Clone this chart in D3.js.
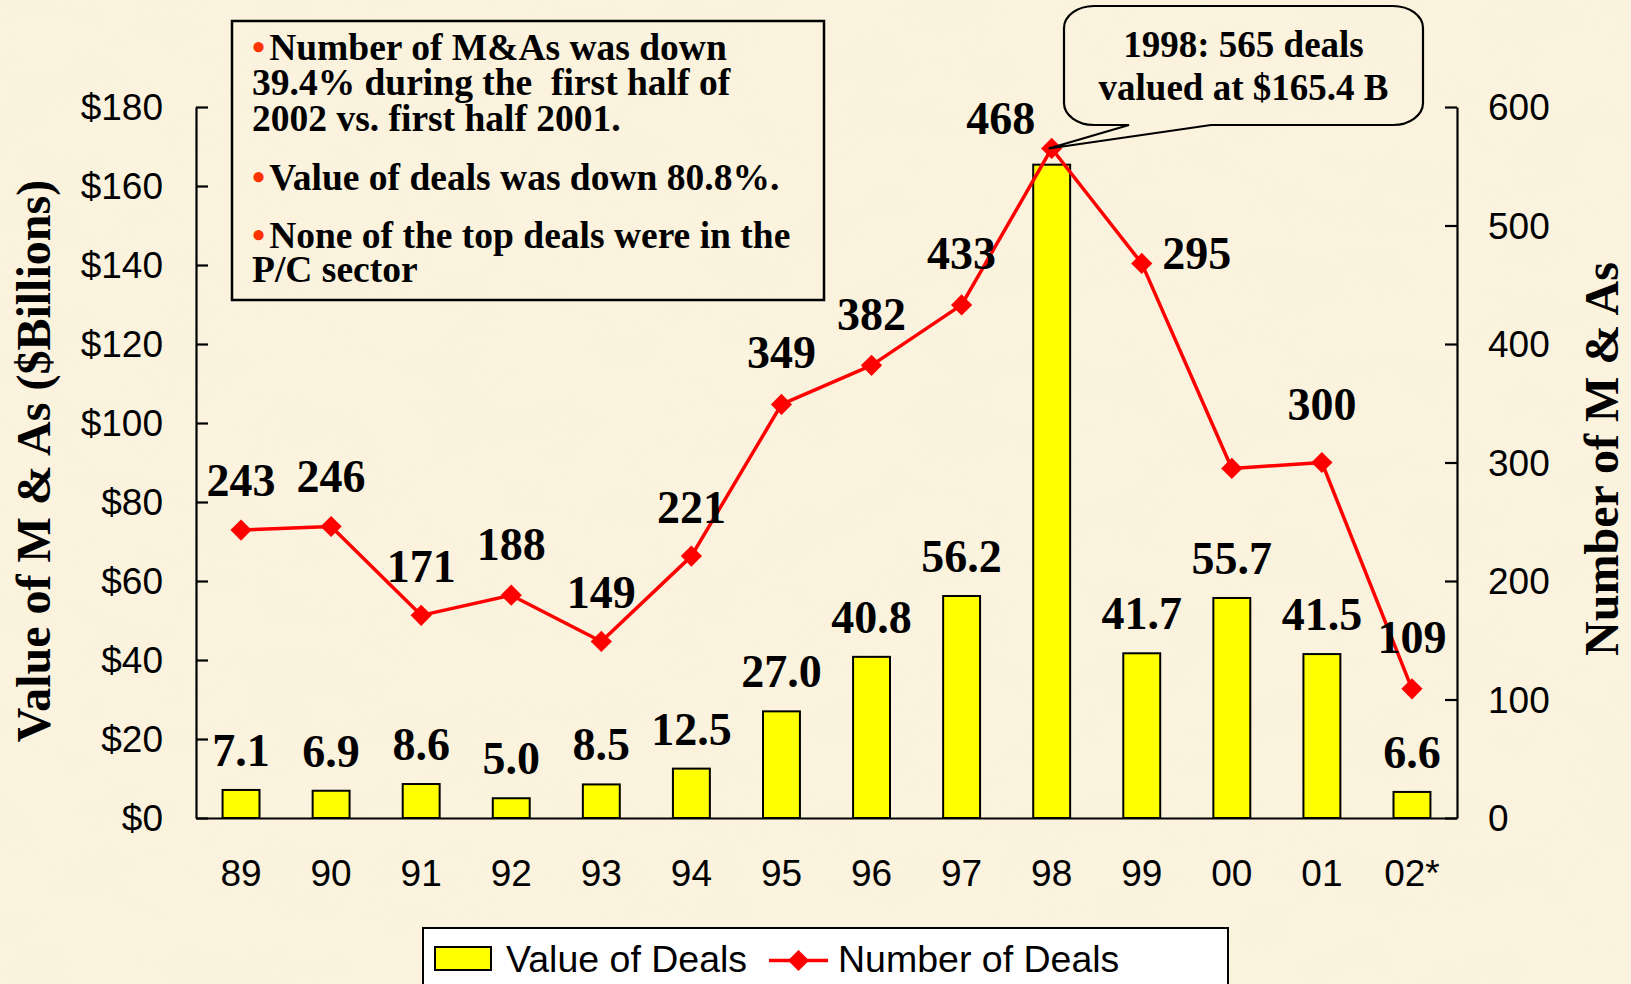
<!DOCTYPE html>
<html>
<head>
<meta charset="utf-8">
<script src="https://cdn.jsdelivr.net/npm/d3@7"></script>
<style>
  html, body { margin: 0; padding: 0; background: #faf0da; }
  svg { display: block; }
</style>
</head>
<body>
<svg id="chart" width="1631" height="984"></svg>
<script>
// ---- data ----
const years = ["89", "90", "91", "92", "93", "94", "95", "96", "97", "98", "99", "00", "01", "02*"];
const dealValues = [7.1, 6.9, 8.6, 5.0, 8.5, 12.5, 27.0, 40.8, 56.2, 165.4, 41.7, 55.7, 41.5, 6.6]; // $ billions
const dealCounts = [243, 246, 171, 188, 149, 221, 349, 382, 433, 565, 468, 295, 300, 109];
const valueTicks = [0, 20, 40, 60, 80, 100, 120, 140, 160, 180];
const countTicks = [0, 100, 200, 300, 400, 500, 600];

// the 1998 figures are carried by the callout rather than by data labels
const calloutYear = "98";
const calloutLines = ["1998: 565 deals", "valued at $165.4 B"];

const notes = [
  { bullet: true,  text: "Number of M&As was down" },
  { bullet: false, text: "39.4% during the  first half of" },
  { bullet: false, text: "2002 vs. first half 2001." },
  { bullet: true,  text: "Value of deals was down 80.8%." },
  { bullet: true,  text: "None of the top deals were in the" },
  { bullet: false, text: "P/C sector" }
];

// ---- placement of the hand-positioned count labels ----
// each label sits beside the marker of category `at`, shifted by dx/dy (baseline)
const countLabelPlacement = [
  { at: 0, dx: 0, dy: -34 }, { at: 1, dx: 0, dy: -34 }, { at: 2, dx: 0, dy: -33 },
  { at: 3, dx: 0, dy: -35 }, { at: 4, dx: 0, dy: -33 }, { at: 5, dx: 0, dy: -33 },
  { at: 6, dx: 0, dy: -36 }, { at: 7, dx: 0, dy: -35 }, { at: 8, dx: 0, dy: -36 },
  null,
  { at: 9, dx: -51, dy: -14 }, { at: 10, dx: 55, dy: 6 },
  { at: 12, dx: 0, dy: -43 }, { at: 13, dx: 0, dy: -36 }
];

// ---- styling ----
const SERIF = "'Liberation Serif', 'Times New Roman', serif";
const SANS = "'Liberation Sans', Arial, sans-serif";
const BAR_FILL = "#ffff00";
const LINE_RED = "#ff0000";
const BULLET_RED = "#ff3300";

const svg = d3.select("#chart");

// parchment background
const defs = svg.append("defs");
const paper = defs.append("filter").attr("id", "paper")
  .attr("x", 0).attr("y", 0).attr("width", "100%").attr("height", "100%");
paper.append("feTurbulence").attr("type", "fractalNoise")
  .attr("baseFrequency", "0.012 0.02").attr("numOctaves", 3).attr("seed", 7);
paper.append("feColorMatrix").attr("type", "matrix")
  .attr("values", "0 0 0 0 0.93  0 0 0 0 0.86  0 0 0 0 0.70  0.9 0 0 0 -0.32");

svg.append("rect").attr("width", 1631).attr("height", 984).attr("fill", "#fbf3de");
svg.append("rect").attr("width", 1631).attr("height", 984).attr("filter", "url(#paper)").attr("opacity", 0.55);

// ---- scales ----
const plot = { left: 196, right: 1457, top: 107, bottom: 818 };
const x = d3.scaleBand().domain(years).range([plot.left, plot.right])
  .paddingInner(0.59).paddingOuter(0.295);
const yVal = d3.scaleLinear().domain([0, 180]).range([plot.bottom, plot.top]);
const yCnt = d3.scaleLinear().domain([0, 600]).range([plot.bottom, plot.top]);
const cx = d => x(d) + x.bandwidth() / 2;

// ---- axes ----
const leftAxis = svg.append("g").attr("transform", `translate(${plot.left},0)`)
  .call(d3.axisLeft(yVal).tickValues(valueTicks).tickFormat(d => "$" + d)
    .tickSizeInner(-12).tickSizeOuter(0).tickPadding(33));
const rightAxis = svg.append("g").attr("transform", `translate(${plot.right},0)`)
  .call(d3.axisRight(yCnt).tickValues(countTicks).tickFormat(d3.format("d"))
    .tickSizeInner(-12).tickSizeOuter(0).tickPadding(31));
const bottomAxis = svg.append("g").attr("transform", `translate(0,${plot.bottom})`)
  .call(d3.axisBottom(x).tickSize(0).tickPadding(0));

[leftAxis, rightAxis, bottomAxis].forEach(g => {
  g.select(".domain").attr("stroke", "#000").attr("stroke-width", 2.2);
  g.selectAll(".tick line").attr("stroke", "#000").attr("stroke-width", 2.2);
  g.selectAll(".tick text").attr("fill", "#000")
    .style("font-family", SANS).style("font-size", "37px");
});
bottomAxis.selectAll(".tick text").attr("y", 68).attr("dy", null);
leftAxis.selectAll(".tick text").attr("dy", "0.35em");
rightAxis.selectAll(".tick text").attr("dy", "0.35em");

// ---- bars ----
svg.append("g").selectAll("rect").data(dealValues).join("rect")
  .attr("x", (d, i) => x(years[i]))
  .attr("width", x.bandwidth())
  .attr("y", d => yVal(d))
  .attr("height", d => plot.bottom - yVal(d))
  .attr("fill", BAR_FILL).attr("stroke", "#000").attr("stroke-width", 2);

// value labels above the bars
svg.append("g").selectAll("text")
  .data(dealValues.map((v, i) => ({ v, i })).filter(d => years[d.i] !== calloutYear))
  .join("text")
  .attr("x", d => cx(years[d.i]))
  .attr("y", d => yVal(d.v) - 24)
  .attr("text-anchor", "middle")
  .style("font-family", SERIF).style("font-weight", "bold").style("font-size", "46px")
  .text(d => d3.format(".1f")(d.v));

// ---- deal count line ----
const line = d3.line().x((d, i) => cx(years[i])).y(d => yCnt(d));
svg.append("path").datum(dealCounts)
  .attr("d", line).attr("fill", "none")
  .attr("stroke", LINE_RED).attr("stroke-width", 3.5).attr("stroke-linejoin", "round");

const diamond = d3.symbol(d3.symbolSquare, 225);
svg.append("g").selectAll("path").data(dealCounts).join("path")
  .attr("d", diamond)
  .attr("transform", (d, i) => `translate(${cx(years[i])},${yCnt(d)}) rotate(45)`)
  .attr("fill", LINE_RED);

// count labels
svg.append("g").selectAll("text")
  .data(dealCounts.map((v, i) => ({ v, p: countLabelPlacement[i] })).filter(d => d.p))
  .join("text")
  .attr("x", d => cx(years[d.p.at]) + d.p.dx)
  .attr("y", d => yCnt(dealCounts[d.p.at]) + d.p.dy)
  .attr("text-anchor", "middle")
  .style("font-family", SERIF).style("font-weight", "bold").style("font-size", "46px")
  .text(d => d.v);

// ---- 1998 callout ----
{
  const tipX = cx(calloutYear) - 3;
  const tipY = yCnt(dealCounts[years.indexOf(calloutYear)]);
  const x0 = 1064, x1 = 1423, y0 = 6, y1 = 125, rx = 30, ry = 22;
  const baseL = 1129, baseR = 1211;
  const p = d3.path();
  p.moveTo(x0 + rx, y0);
  p.lineTo(x1 - rx, y0);
  p.bezierCurveTo(x1 - rx * 0.45, y0, x1, y0 + ry * 0.45, x1, y0 + ry);
  p.lineTo(x1, y1 - ry);
  p.bezierCurveTo(x1, y1 - ry * 0.45, x1 - rx * 0.45, y1, x1 - rx, y1);
  p.lineTo(baseR, y1);
  p.lineTo(tipX, tipY);
  p.lineTo(baseL, y1);
  p.lineTo(x0 + rx, y1);
  p.bezierCurveTo(x0 + rx * 0.45, y1, x0, y1 - ry * 0.45, x0, y1 - ry);
  p.lineTo(x0, y0 + ry);
  p.bezierCurveTo(x0, y0 + ry * 0.45, x0 + rx * 0.45, y0, x0 + rx, y0);
  p.closePath();
  svg.append("path").attr("d", p.toString())
    .attr("fill", "none").attr("stroke", "#000").attr("stroke-width", 2.2)
    .attr("stroke-linejoin", "miter");
  svg.append("text")
    .attr("text-anchor", "middle")
    .style("font-family", SERIF).style("font-weight", "bold").style("font-size", "37px")
    .selectAll("tspan").data(calloutLines).join("tspan")
    .attr("x", 1243.5).attr("y", (d, i) => 56.7 + i * 43.3)
    .text(d => d);
}

// ---- notes box (one multi-line text block) ----
svg.append("rect").attr("x", 232).attr("y", 21).attr("width", 592).attr("height", 279)
  .attr("fill", "none").attr("stroke", "#000").attr("stroke-width", 2.5);
const noteBaselines = [60, 95, 130.5, 190, 248, 282];
const noteText = svg.append("text")
  .style("font-family", SERIF).style("font-weight", "bold").style("font-size", "37.5px")
  .style("white-space", "pre");
notes.forEach((n, i) => {
  const row = noteText.append("tspan").attr("x", 252).attr("y", noteBaselines[i]);
  if (n.bullet) {
    row.append("tspan").attr("fill", BULLET_RED).text("\u2022");
    row.append("tspan").attr("dx", 4).text(n.text);
  } else {
    row.append("tspan").text(n.text);
  }
});

// ---- axis titles ----
svg.append("text").attr("transform", "translate(50,461) rotate(-90)")
  .attr("text-anchor", "middle")
  .style("font-family", SERIF).style("font-weight", "bold").style("font-size", "48px")
  .text("Value of M & As ($Billions)");
svg.append("text").attr("transform", "translate(1618,459) rotate(-90)")
  .attr("text-anchor", "middle")
  .style("font-family", SERIF).style("font-weight", "bold").style("font-size", "48px")
  .text("Number of M & As");

// ---- legend ----
const legend = svg.append("g");
legend.append("rect").attr("x", 423).attr("y", 928).attr("width", 805).attr("height", 80)
  .attr("fill", "#fff").attr("stroke", "#000").attr("stroke-width", 2);
legend.append("rect").attr("x", 435).attr("y", 947).attr("width", 56).attr("height", 23)
  .attr("fill", BAR_FILL).attr("stroke", "#000").attr("stroke-width", 2);
legend.append("text").attr("x", 506).attr("y", 972)
  .style("font-family", SANS).style("font-size", "37.5px").text("Value of Deals");
legend.append("line").attr("x1", 769).attr("x2", 828).attr("y1", 960.5).attr("y2", 960.5)
  .attr("stroke", LINE_RED).attr("stroke-width", 3.5);
legend.append("path").attr("d", diamond)
  .attr("transform", "translate(798.5,960.5) rotate(45)").attr("fill", LINE_RED);
legend.append("text").attr("x", 838).attr("y", 972)
  .style("font-family", SANS).style("font-size", "37.5px").text("Number of Deals");
</script>
</body>
</html>
